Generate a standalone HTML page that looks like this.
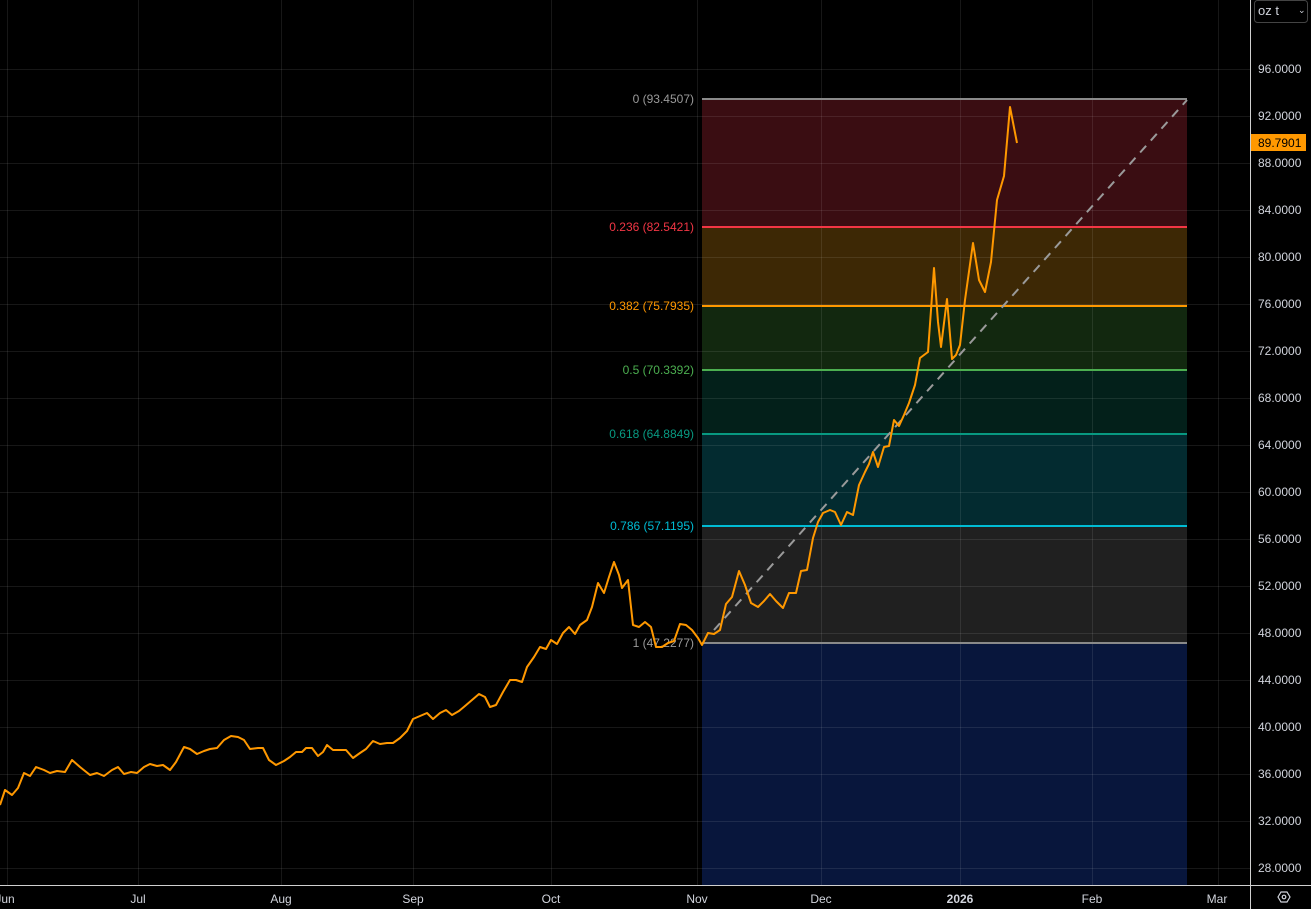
<!DOCTYPE html>
<html><head><meta charset="utf-8"><style>
html,body{margin:0;padding:0;background:#000;}
svg{display:block;font-family:"Liberation Sans",sans-serif;}
</style></head><body>
<svg width="1311" height="909" viewBox="0 0 1311 909" xmlns="http://www.w3.org/2000/svg">
<rect width="1311" height="909" fill="#000"/>
<!-- fib bands -->
<rect x="702" y="99" width="485" height="128" fill="#3a0d12"/>
<rect x="702" y="227" width="485" height="79" fill="#3d2805"/>
<rect x="702" y="306" width="485" height="64" fill="#12280f"/>
<rect x="702" y="370" width="485" height="64" fill="#03201a"/>
<rect x="702" y="434" width="485" height="92" fill="#032b30"/>
<rect x="702" y="526" width="485" height="117" fill="#202020"/>
<rect x="702" y="643" width="485" height="242" fill="#08163c"/>
<!-- grid -->
<g stroke="#ffffff" stroke-opacity="0.09" stroke-width="1">
<line x1="0" x2="1250" y1="69.5" y2="69.5"/><line x1="0" x2="1250" y1="116.5" y2="116.5"/><line x1="0" x2="1250" y1="163.5" y2="163.5"/><line x1="0" x2="1250" y1="210.5" y2="210.5"/><line x1="0" x2="1250" y1="257.5" y2="257.5"/><line x1="0" x2="1250" y1="304.5" y2="304.5"/><line x1="0" x2="1250" y1="351.5" y2="351.5"/><line x1="0" x2="1250" y1="398.5" y2="398.5"/><line x1="0" x2="1250" y1="445.5" y2="445.5"/><line x1="0" x2="1250" y1="492.5" y2="492.5"/><line x1="0" x2="1250" y1="539.5" y2="539.5"/><line x1="0" x2="1250" y1="586.5" y2="586.5"/><line x1="0" x2="1250" y1="633.5" y2="633.5"/><line x1="0" x2="1250" y1="680.5" y2="680.5"/><line x1="0" x2="1250" y1="727.5" y2="727.5"/><line x1="0" x2="1250" y1="774.5" y2="774.5"/><line x1="0" x2="1250" y1="821.5" y2="821.5"/><line x1="0" x2="1250" y1="868.5" y2="868.5"/>
<line y1="0" y2="885" x1="7.5" x2="7.5"/><line y1="0" y2="885" x1="138.5" x2="138.5"/><line y1="0" y2="885" x1="281.5" x2="281.5"/><line y1="0" y2="885" x1="413.5" x2="413.5"/><line y1="0" y2="885" x1="551.5" x2="551.5"/><line y1="0" y2="885" x1="697.5" x2="697.5"/><line y1="0" y2="885" x1="821.5" x2="821.5"/><line y1="0" y2="885" x1="960.5" x2="960.5"/><line y1="0" y2="885" x1="1092.5" x2="1092.5"/><line y1="0" y2="885" x1="1218.5" x2="1218.5"/>
</g>
<!-- fib lines -->
<line x1="702" x2="1187" y1="99" y2="99" stroke="#8a8a8a" stroke-width="2"/>
<line x1="702" x2="1187" y1="227" y2="227" stroke="#f23645" stroke-width="2"/>
<line x1="702" x2="1187" y1="306" y2="306" stroke="#ff9800" stroke-width="2"/>
<line x1="702" x2="1187" y1="370" y2="370" stroke="#4caf50" stroke-width="2"/>
<line x1="702" x2="1187" y1="434" y2="434" stroke="#089981" stroke-width="2"/>
<line x1="702" x2="1187" y1="526" y2="526" stroke="#00bcd4" stroke-width="2"/>
<line x1="702" x2="1187" y1="643" y2="643" stroke="#8a8a8a" stroke-width="2"/>
<g font-size="12" text-anchor="end">
<text x="694" y="103" fill="#9a9a9a">0 (93.4507)</text>
<text x="694" y="231" fill="#f23645">0.236 (82.5421)</text>
<text x="694" y="310" fill="#ff9800">0.382 (75.7935)</text>
<text x="694" y="374" fill="#4caf50">0.5 (70.3392)</text>
<text x="694" y="438" fill="#089981">0.618 (64.8849)</text>
<text x="694" y="530" fill="#00bcd4">0.786 (57.1195)</text>
<text x="694" y="647" fill="#9a9a9a">1 (47.2277)</text>
</g>
<!-- trend line -->
<line x1="714" y1="630" x2="1187" y2="100" stroke="#9a9a9a" stroke-width="2" stroke-dasharray="9,7"/>
<!-- price -->
<polyline fill="none" stroke="#ff9800" stroke-width="2" stroke-linejoin="round" points="0,805 5,790 12,795 18,788 24,773 30,776 36,767 44,770 50,773 57,771 65,772 72,760 80,767 90,775 97,773 104,776 112,770 118,767 124,774 131,772 137,773 144,767 150,764 157,766 163,765 170,770 176,762 184,747 190,749 197,754 204,751 210,749 217,748 224,740 231,736 238,737 244,740 250,749 258,748 263,748 269,760 276,765 284,761 290,757 296,752 302,752 306,748 312,748 318,756 323,752 327,745 333,750 340,750 346,750 353,758 360,753 366,749 373,741 380,744 387,743 393,743 400,738 407,731 413,719 420,716 427,713 433,719 440,713 446,710 452,715 459,711 465,706 472,700 479,694 485,697 490,707 496,705 503,692 510,680 516,680 522,682 527,667 534,657 540,647 546,649 551,640 557,644 563,633 569,627 575,634 580,625 587,620 592,607 598,583 604,593 609,577 614,562 619,575 622,588 628,580 633,625 639,627 645,622 651,627 656,647 662,647 668,643 674,641 680,624 686,625 692,630 698,638 702,645 708,633 714,634 720,630 726,604 732,597 739,571 745,585 751,603 758,607 764,601 770,594 776,601 783,608 789,593 796,593 801,571 807,570 813,538 818,522 823,513 830,510 835,512 841,525 847,512 853,515 859,485 865,472 869,464 873,452 878,467 884,447 889,446 894,420 899,426 904,415 909,403 915,385 920,358 928,352 934,268 938,322 941,347 947,299 952,359 956,355 960,345 965,300 973,243 979,280 985,292 991,262 997,200 1004,176 1010,107 1017,143"/>
<!-- axes -->
<line x1="1250.5" y1="0" x2="1250.5" y2="909" stroke="#d0d0d0" stroke-width="1"/>
<line x1="0" y1="885.5" x2="1311" y2="885.5" stroke="#d0d0d0" stroke-width="1"/>
<g font-size="12" fill="#d1d4dc">
<text x="1258" y="73">96.0000</text><text x="1258" y="120">92.0000</text><text x="1258" y="167">88.0000</text><text x="1258" y="214">84.0000</text><text x="1258" y="261">80.0000</text><text x="1258" y="308">76.0000</text><text x="1258" y="355">72.0000</text><text x="1258" y="402">68.0000</text><text x="1258" y="449">64.0000</text><text x="1258" y="496">60.0000</text><text x="1258" y="543">56.0000</text><text x="1258" y="590">52.0000</text><text x="1258" y="637">48.0000</text><text x="1258" y="684">44.0000</text><text x="1258" y="731">40.0000</text><text x="1258" y="778">36.0000</text><text x="1258" y="825">32.0000</text><text x="1258" y="872">28.0000</text>
</g>
<rect x="1251" y="134" width="55" height="17" fill="#ff9800"/>
<text x="1258" y="147" font-size="12" fill="#000">89.7901</text>
<rect x="1254.5" y="0.5" width="53" height="22" rx="3" fill="none" stroke="#444"/>
<text x="1258" y="15" font-size="13" fill="#d1d4dc">oz t</text>
<text x="1298" y="13" font-size="9" fill="#d1d4dc">⌄</text>
<g font-size="12" fill="#d1d4dc" text-anchor="middle">
<text x="5" y="903">Jun</text><text x="138" y="903">Jul</text><text x="281" y="903">Aug</text><text x="413" y="903">Sep</text><text x="551" y="903">Oct</text><text x="697" y="903">Nov</text><text x="821" y="903">Dec</text><text x="960" y="903" font-weight="bold">2026</text><text x="1092" y="903">Feb</text><text x="1217" y="903">Mar</text>
</g>
<polygon points="1278,897 1281,892 1287,892 1290,897 1287,902 1281,902" fill="none" stroke="#d1d4dc" stroke-width="1.2"/>
<circle cx="1284" cy="897" r="1.8" fill="none" stroke="#d1d4dc" stroke-width="1.2"/>
</svg>
</body></html>
